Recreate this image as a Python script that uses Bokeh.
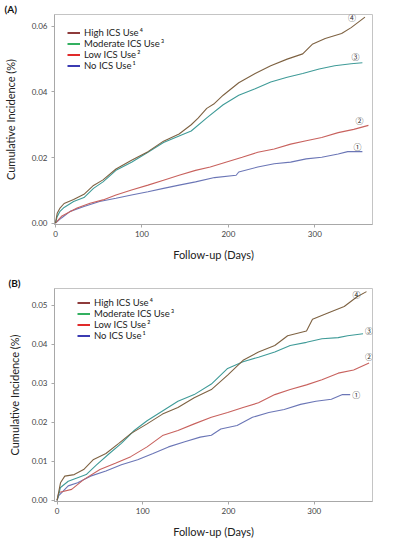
from bokeh.plotting import figure
from bokeh.layouts import column
from bokeh.models import Legend, LegendItem, FixedTicker, Range1d
from bokeh.core.properties import value
from bokeh.embed import file_html
from bokeh.resources import INLINE

# ---------------- data ----------------
groups = ["High ICS Use", "Moderate ICS Use", "Low ICS Use", "No ICS Use"]
superscripts = ["\u2074", "\u00b3", "\u00b2", "\u00b9"]
circled = ["\u2463", "\u2462", "\u2461", "\u2460"]
x_ticks = [0, 100, 200, 300]
a_y_ticks = [0.00, 0.02, 0.04, 0.06]
b_y_ticks = [0.00, 0.01, 0.02, 0.03, 0.04, 0.05]

# Panel A (days, cumulative incidence)
a_high_day = [0, 2, 5, 10, 21, 33, 44, 55, 70, 88, 107, 125, 143, 157, 165, 175, 184, 194, 212, 231, 249, 268, 286, 297, 312, 331, 342, 358]
a_high_val = [0, 0.0030, 0.0045, 0.0060, 0.0072, 0.0088, 0.0115, 0.0132, 0.0165, 0.0192, 0.0218, 0.0250, 0.0272, 0.0300, 0.0320, 0.0350, 0.0365, 0.0390, 0.0428, 0.0456, 0.0480, 0.0500, 0.0516, 0.0545, 0.0563, 0.0578, 0.0596, 0.0628]
a_mod_day = [0, 2, 5, 10, 21, 33, 44, 55, 70, 88, 107, 125, 143, 157, 175, 194, 212, 231, 249, 268, 286, 305, 323, 342, 355]
a_mod_val = [0, 0.0020, 0.0035, 0.0048, 0.0066, 0.0078, 0.0106, 0.0126, 0.0161, 0.0186, 0.0216, 0.0246, 0.0266, 0.0281, 0.0321, 0.0361, 0.0390, 0.0410, 0.0430, 0.0445, 0.0456, 0.0470, 0.0480, 0.0486, 0.0489]
a_low_day = [0, 7, 14, 25, 40, 55, 70, 88, 107, 125, 143, 162, 179, 197, 216, 234, 253, 272, 290, 308, 327, 345, 362]
a_low_val = [0, 0.0021, 0.0031, 0.0046, 0.0061, 0.0071, 0.0086, 0.0101, 0.0116, 0.0131, 0.0146, 0.0161, 0.0171, 0.0186, 0.0201, 0.0216, 0.0226, 0.0241, 0.0251, 0.0261, 0.0276, 0.0286, 0.0298]
a_no_day = [0, 7, 17, 33, 51, 70, 88, 107, 125, 143, 162, 184, 209, 212, 234, 253, 272, 290, 308, 327, 338, 355]
a_no_val = [0, 0.0016, 0.0036, 0.0051, 0.0066, 0.0076, 0.0086, 0.0096, 0.0106, 0.0116, 0.0126, 0.0139, 0.0146, 0.0156, 0.0171, 0.0181, 0.0186, 0.0196, 0.0201, 0.0211, 0.0218, 0.0218]

# Panel B
b_high_day = [0, 4, 9, 20, 31, 42, 57, 72, 86, 105, 123, 141, 160, 180, 199, 217, 235, 254, 269, 291, 298, 316, 335, 350, 361]
b_high_val = [0, 0.0045, 0.0062, 0.0066, 0.0079, 0.0104, 0.0120, 0.0146, 0.0171, 0.0196, 0.0221, 0.0238, 0.0263, 0.0284, 0.0321, 0.0359, 0.0380, 0.0397, 0.0422, 0.0434, 0.0464, 0.0480, 0.0497, 0.0522, 0.0535]
b_mod_day = [0, 4, 13, 24, 34, 46, 61, 75, 90, 105, 123, 141, 160, 180, 199, 217, 235, 254, 272, 291, 309, 328, 339, 357]
b_mod_val = [0, 0.0033, 0.0049, 0.0058, 0.0066, 0.0091, 0.0120, 0.0146, 0.0179, 0.0204, 0.0229, 0.0254, 0.0271, 0.0298, 0.0338, 0.0355, 0.0367, 0.0380, 0.0397, 0.0405, 0.0414, 0.0417, 0.0422, 0.0427]
b_low_day = [0, 2, 17, 31, 50, 68, 86, 105, 123, 141, 160, 180, 199, 217, 235, 254, 272, 291, 309, 328, 346, 364]
b_low_val = [0, 0.0020, 0.0028, 0.0053, 0.0079, 0.0095, 0.0112, 0.0137, 0.0166, 0.0179, 0.0196, 0.0213, 0.0225, 0.0238, 0.0250, 0.0271, 0.0284, 0.0296, 0.0309, 0.0326, 0.0334, 0.0352]
b_no_day = [0, 2, 13, 24, 39, 57, 75, 94, 112, 130, 149, 167, 180, 191, 210, 228, 247, 265, 284, 302, 320, 333, 342]
b_no_val = [0, 0.0012, 0.0037, 0.0045, 0.0062, 0.0075, 0.0091, 0.0104, 0.0120, 0.0137, 0.0150, 0.0162, 0.0167, 0.0183, 0.0192, 0.0213, 0.0225, 0.0233, 0.0246, 0.0254, 0.0259, 0.0271, 0.0271]

# ---------------- styles ----------------
FONT = "Lato"
CURVE_COLORS = ["#7e6242", "#3f9b98", "#c8625e", "#6b76b6"]
LEGEND_COLORS = ["#8e3b3b", "#33b060", "#e02a2a", "#3b3bb2"]
WIDTH = 374
LEG_H = 44  # 4 rows x 11 px
NAN = float("nan")


def make_panel(tag, curves, y_ticks, xr, yr, height, borders, axis_std, legend_off, label_offsets):
    top, bottom, left, right = borders
    p = figure(width=WIDTH, height=height, output_backend="svg", toolbar_location=None,
               x_range=Range1d(*xr), y_range=Range1d(*yr),
               min_border_top=top, min_border_bottom=bottom,
               min_border_left=left, min_border_right=right)
    # panel tag as a left-aligned title shifted into the left margin
    p.title.text = tag
    p.title.align = "left"
    p.title.offset = -left
    p.title.standoff = 0
    p.title.text_font = FONT
    p.title.text_font_size = "10px"
    p.title.text_font_style = "bold"
    p.title.text_color = "#111111"

    p.xgrid.visible = False
    p.ygrid.visible = False
    p.outline_line_color = "#c4c4c4"
    p.outline_line_width = 1
    p.background_fill_color = "white"
    p.border_fill_color = "white"

    for ax in (p.xaxis[0], p.yaxis[0]):
        ax.axis_line_color = "#a8a8a8"
        ax.major_tick_line_color = "#a8a8a8"
        ax.major_tick_out = 3
        ax.major_tick_in = 0
        ax.minor_tick_line_color = None
        ax.major_label_text_font = FONT
        ax.major_label_text_font_size = "8px"
        ax.major_label_text_color = "#444444"
        ax.axis_label_text_font = FONT
        ax.axis_label_text_font_size = "11px"
        ax.axis_label_text_font_style = "normal"
        ax.axis_label_text_color = "#222222"

    p.xaxis.ticker = FixedTicker(ticks=x_ticks)
    p.yaxis.ticker = FixedTicker(ticks=y_ticks)
    p.yaxis.major_label_overrides = {t: f"{t:.2f}" for t in y_ticks}
    p.xaxis.axis_label = "Follow-up (Days)"
    p.yaxis.axis_label = "Cumulative Incidence (%)"
    p.xaxis.major_label_standoff = 3
    p.xaxis.axis_label_standoff = 8
    p.yaxis.major_label_standoff = 4
    p.yaxis.axis_label_standoff = axis_std

    # curves (drawn in reverse so High is on top)
    for i in reversed(range(4)):
        days, vals = curves[i]
        p.line(days, vals, line_color=CURVE_COLORS[i], line_width=1.1)

    # circled end labels
    for i in range(4):
        days, vals = curves[i]
        dx, dy = label_offsets[i]
        p.text(x=[days[-1]], y=[vals[-1]], text=[circled[i]], x_offset=dx, y_offset=dy,
               text_font=value("Noto Sans CJK JP"), text_font_size="8px",
               text_color="#333333", text_align="center", text_baseline="middle")

    # legend (own colours, as in the figure); renderers hold a single NaN point
    items = []
    for i in range(4):
        r = p.line(x=[NAN], y=[NAN], line_color=LEGEND_COLORS[i], line_width=2)
        items.append(LegendItem(label=groups[i] + "\u2009" + superscripts[i], renderers=[r]))
    frame_h = height - top - bottom
    lx, ly = legend_off
    leg = Legend(items=items, location=(lx, frame_h - ly - LEG_H), orientation="vertical",
                 border_line_color=None, background_fill_alpha=0,
                 label_text_font=FONT, label_text_font_size="9.5px", label_text_color="#222222",
                 glyph_width=13, glyph_height=11, label_height=11, label_standoff=4,
                 spacing=0, padding=0, margin=0)
    p.add_layout(leg)
    return p


curves_a = [(a_high_day, a_high_val), (a_mod_day, a_mod_val), (a_low_day, a_low_val), (a_no_day, a_no_val)]
curves_b = [(b_high_day, b_high_val), (b_mod_day, b_mod_val), (b_low_day, b_low_val), (b_no_day, b_no_val)]

pa = make_panel("(A)", curves_a, a_y_ticks, (-1.1, 366.7), (-0.0004, 0.0636), 268,
                (14, 44, 50, 2), 12, (13, 12.5),
                [(-13, 0), (-7, -6), (-9, -5), (-5, -5)])
pb = make_panel("(B)", curves_b, b_y_ticks, (-3.0, 368.0), (-0.0003, 0.0543), 272,
                (20, 36, 46, 2), 8, (23, 11.5),
                [(-10, 3), (6, -3), (0, -7), (6, 0)])

layout = column(pa, pb, spacing=0)
open("out.html", "w").write(file_html(layout, INLINE))
